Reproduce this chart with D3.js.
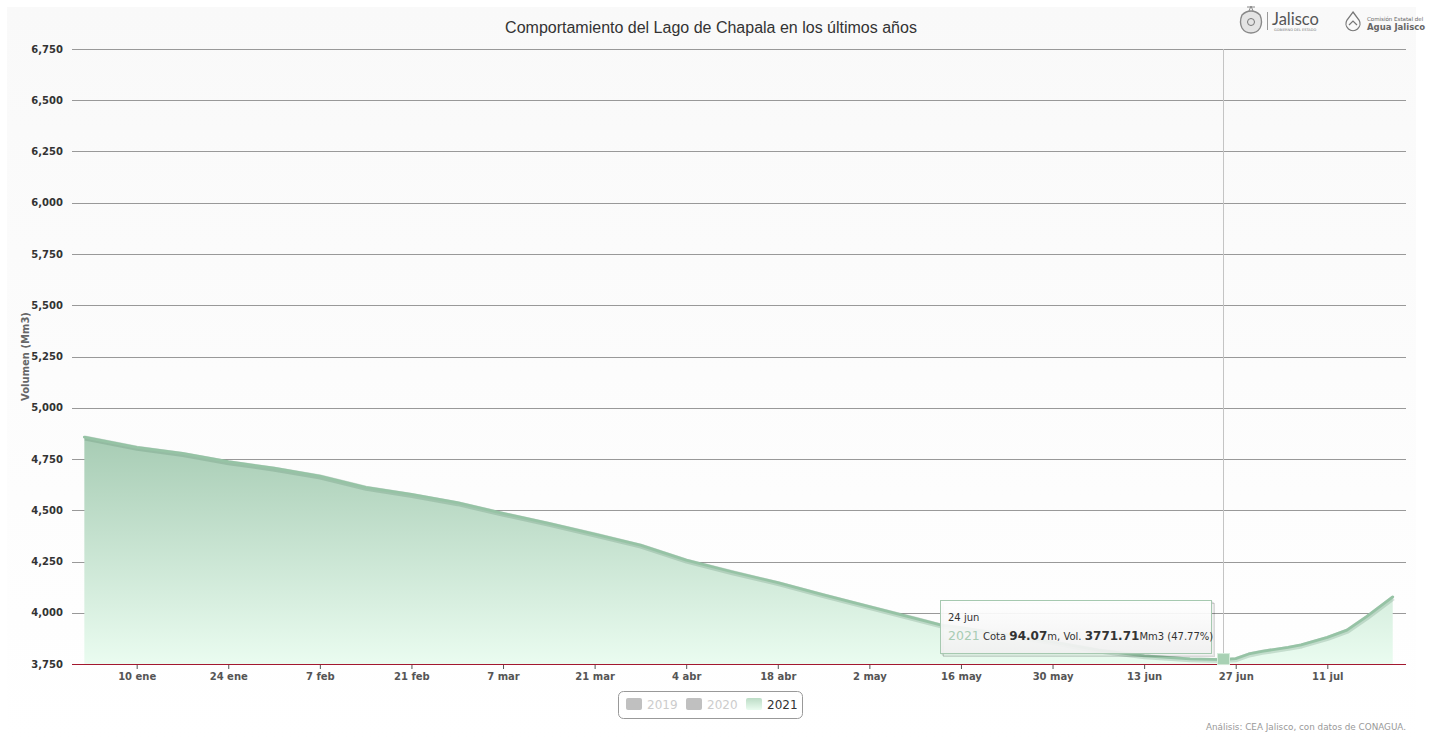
<!DOCTYPE html>
<html>
<head>
<meta charset="utf-8">
<script src="https://cdn.jsdelivr.net/npm/d3@7"></script>
<style>
  html, body { margin: 0; padding: 0; background: #ffffff; }
  svg { display: block; }
</style>
</head>
<body>
<svg id="chart" width="1429" height="741"></svg>
<script>
// ---------------- DATA ----------------
const chartTitle = "Comportamiento del Lago de Chapala en los últimos años";
const yAxisTitle = "Volumen (Mm3)";
const creditText = "Análisis: CEA Jalisco, con datos de CONAGUA.";
const legendYears = ["2019", "2020", "2021"];
const legendVisible = [false, false, true];

// 2021 series (plotted date, volume in Mm3)
const dates2021 = [
  "2021-01-02","2021-01-10","2021-01-17","2021-01-24","2021-01-31",
  "2021-02-07","2021-02-14","2021-02-21","2021-02-28",
  "2021-03-07","2021-03-14","2021-03-21","2021-03-28",
  "2021-04-04","2021-04-11","2021-04-18","2021-04-25",
  "2021-05-02","2021-05-09","2021-05-13","2021-05-16","2021-05-23","2021-05-30",
  "2021-06-06","2021-06-13","2021-06-20","2021-06-25","2021-06-27","2021-06-29",
  "2021-07-01","2021-07-05","2021-07-07","2021-07-11","2021-07-14","2021-07-17","2021-07-21"
];
const volumes2021 = [
  4857, 4807, 4777, 4737, 4705,
  4667, 4612, 4577, 4537,
  4485, 4436, 4384, 4330,
  4257, 4200, 4147, 4087,
  4030, 3973, 3940, 3927, 3893, 3858,
  3818, 3790, 3775, 3771.71, 3776, 3799,
  3812, 3831, 3843, 3880, 3915, 3981, 4077
];

const yTicks = [3750, 4000, 4250, 4500, 4750, 5000, 5250, 5500, 5750, 6000, 6250, 6500, 6750];
const xTickDates = ["2021-01-10","2021-01-24","2021-02-07","2021-02-21","2021-03-07","2021-03-21",
  "2021-04-04","2021-04-18","2021-05-02","2021-05-16","2021-05-30","2021-06-13","2021-06-27","2021-07-11"];
const monthNames = ["ene","feb","mar","abr","may","jun","jul","ago","sep","oct","nov","dic"];

// tooltip content
const tipDateLabel = "24 jun";
const tipPointDate = "2021-06-25";
const tipYear = "2021";
const tipCota = "94.07";
const tipVol = "3771.71";
const tipPct = "(47.77%)";

// ---------------- CHART ----------------
const parse = d3.timeParse("%Y-%m-%d");
const data = dates2021.map((d, i) => ({ date: parse(d), v: volumes2021[i] }));

const svg = d3.select("#chart");
const defs = svg.append("defs");

const bg = defs.append("linearGradient").attr("id", "bgGrad")
  .attr("x1", 0).attr("y1", 0).attr("x2", 0).attr("y2", 1);
bg.append("stop").attr("offset", "0%").attr("stop-color", "#f9f9f9");
bg.append("stop").attr("offset", "100%").attr("stop-color", "#ffffff");

const areaGrad = defs.append("linearGradient").attr("id", "areaGrad")
  .attr("gradientUnits", "userSpaceOnUse")
  .attr("x1", 0).attr("y1", 437).attr("x2", 0).attr("y2", 664);
areaGrad.append("stop").attr("offset", "0%").attr("stop-color", "#a7ccb4");
areaGrad.append("stop").attr("offset", "100%").attr("stop-color", "#eafcf0");

const legGrad = defs.append("linearGradient").attr("id", "legGrad")
  .attr("x1", 0).attr("y1", 0).attr("x2", 0).attr("y2", 1);
legGrad.append("stop").attr("offset", "0%").attr("stop-color", "#bcdcc6");
legGrad.append("stop").attr("offset", "100%").attr("stop-color", "#eafcf0");

const tipGrad = defs.append("linearGradient").attr("id", "tipGrad")
  .attr("x1", 0).attr("y1", 0).attr("x2", 0).attr("y2", 1);
tipGrad.append("stop").attr("offset", "0%").attr("stop-color", "#ffffff");
tipGrad.append("stop").attr("offset", "100%").attr("stop-color", "#f0f0f0");

// background panel
svg.append("rect").attr("x", 7).attr("y", 7).attr("width", 1409).attr("height", 734)
  .attr("fill", "url(#bgGrad)");

// scales
const plotLeft = 72, plotRight = 1406, plotTop = 49, plotBottom = 664;
const x = d3.scaleTime()
  .domain([new Date(2020, 11, 31, 2, 43), new Date(2021, 6, 23, 0, 43)])
  .range([plotLeft, plotRight]);
const y = d3.scaleLinear().domain([3750, 6750]).range([plotBottom, plotTop]);

// grid lines
svg.append("g").selectAll("line").data(yTicks.filter(t => t !== 3750)).join("line")
  .attr("x1", plotLeft).attr("x2", plotRight)
  .attr("y1", d => Math.round(y(d)) + 0.5).attr("y2", d => Math.round(y(d)) + 0.5)
  .attr("stroke", "#999").attr("stroke-width", 1);

// y axis labels
const yAxis = d3.axisLeft(y).tickValues(yTicks).tickSize(0).tickPadding(9)
  .tickFormat(d3.format(","));
const gy = svg.append("g").attr("transform", `translate(${plotLeft},0)`).call(yAxis);
gy.select(".domain").remove();
gy.selectAll("text").attr("font-family", "DejaVu Sans, Verdana, sans-serif")
  .attr("font-size", "10px").attr("font-weight", "bold").attr("fill", "#333");

// y axis title
svg.append("text")
  .attr("transform", `translate(29,${(plotTop + plotBottom) / 2}) rotate(-90)`)
  .attr("text-anchor", "middle")
  .attr("font-family", "DejaVu Sans, Verdana, sans-serif")
  .attr("font-size", "10px").attr("font-weight", "bold").attr("fill", "#666")
  .text(yAxisTitle);

// area + line
const area = d3.area().x(d => x(d.date)).y0(plotBottom).y1(d => y(d.v)).curve(d3.curveLinear);
const line = d3.line().x(d => x(d.date)).y(d => y(d.v)).curve(d3.curveLinear);

svg.append("path").datum(data).attr("d", area).attr("fill", "url(#areaGrad)");
svg.append("path").datum(data).attr("d", line)
  .attr("fill", "none").attr("stroke", "rgba(60,110,80,0.2)").attr("stroke-width", 5)
  .attr("transform", "translate(0.5,1)").attr("stroke-linejoin", "round");
svg.append("path").datum(data).attr("d", line)
  .attr("fill", "none").attr("stroke", "#96c3a5").attr("stroke-width", 2.8)
  .attr("stroke-linejoin", "round").attr("stroke-linecap", "round");

// x axis
const xAxis = d3.axisBottom(x).tickValues(xTickDates.map(parse)).tickSize(5).tickPadding(4)
  .tickFormat(d => d.getDate() + " " + monthNames[d.getMonth()]);
const gx = svg.append("g").attr("transform", `translate(0,${plotBottom})`).call(xAxis);
gx.select(".domain").remove();
gx.selectAll(".tick line").attr("stroke", "#555");
gx.selectAll("text").attr("font-family", "DejaVu Sans, Verdana, sans-serif")
  .attr("font-size", "10px").attr("font-weight", "bold").attr("fill", "#555");
svg.append("line").attr("x1", plotLeft).attr("x2", plotRight)
  .attr("y1", plotBottom + 0.5).attr("y2", plotBottom + 0.5)
  .attr("stroke", "#a3182f").attr("stroke-width", 1);

// crosshair
const tipPt = data.find(d => +d.date === +parse(tipPointDate));
const cx = Math.round(x(tipPt.date)) + 0.5;
svg.append("line").attr("x1", cx).attr("x2", cx).attr("y1", plotTop).attr("y2", plotBottom)
  .attr("stroke", "#c4c4c4").attr("stroke-width", 1);

// hover marker
svg.append("rect").attr("x", cx - 6).attr("y", y(tipPt.v) - 6).attr("width", 12).attr("height", 11)
  .attr("fill", "#a8d1b4").attr("stroke", "#d4ecdb").attr("stroke-width", 1);

// tooltip
const tx = 940.5, ty = 600.5, tw = 271, th = 53;
const tip = svg.append("g");
[3, 2, 1].forEach(o => {
  tip.append("rect").attr("x", tx + o).attr("y", ty + o).attr("width", tw).attr("height", th)
    .attr("fill", "none").attr("stroke", `rgba(0,0,0,${0.05 * o})`).attr("stroke-width", 1);
});
tip.append("rect").attr("x", tx).attr("y", ty).attr("width", tw).attr("height", th)
  .attr("fill", "url(#tipGrad)").attr("fill-opacity", 0.93)
  .attr("stroke", "#a6c9b0").attr("stroke-width", 1);
tip.append("text").attr("x", 948).attr("y", 621)
  .attr("font-family", "DejaVu Sans, Verdana, sans-serif").attr("font-size", "10px").attr("fill", "#333")
  .text(tipDateLabel);
const t2 = tip.append("text").attr("x", 948).attr("y", 640)
  .attr("font-family", "DejaVu Sans, Verdana, sans-serif").attr("fill", "#333");
t2.append("tspan").attr("font-size", "12.5px").attr("fill", "#a8ccb3").text(tipYear);
t2.append("tspan").attr("font-size", "10px").text(" Cota ");
t2.append("tspan").attr("font-size", "12px").attr("font-weight", "bold").text(tipCota);
t2.append("tspan").attr("font-size", "10px").text("m, Vol. ");
t2.append("tspan").attr("font-size", "12px").attr("font-weight", "bold").text(tipVol);
t2.append("tspan").attr("font-size", "10px").text("Mm3 " + tipPct);

// title
svg.append("text").attr("x", 711).attr("y", 33).attr("text-anchor", "middle")
  .attr("font-family", "Liberation Sans, Arial, sans-serif").attr("font-size", "16px").attr("fill", "#333")
  .text(chartTitle);

// legend
const leg = svg.append("g");
leg.append("rect").attr("x", 618.5).attr("y", 691.5).attr("width", 184).attr("height", 27).attr("rx", 5)
  .attr("fill", "none").attr("stroke", "#999").attr("stroke-width", 1);
legendYears.forEach((yr, i) => {
  const lx = 626 + i * 60;
  leg.append("rect").attr("x", lx).attr("y", 698).attr("width", 16).attr("height", 12).attr("rx", 2)
    .attr("fill", legendVisible[i] ? "url(#legGrad)" : "#c0c0c0");
  leg.append("text").attr("x", lx + 21).attr("y", 709)
    .attr("font-family", "DejaVu Sans, Verdana, sans-serif").attr("font-size", "12px")
    .attr("fill", legendVisible[i] ? "#333" : "#cccccc").text(yr);
});

// credits
svg.append("text").attr("x", 1406).attr("y", 730).attr("text-anchor", "end")
  .attr("font-family", "DejaVu Sans, Verdana, sans-serif").attr("font-size", "8.8px").attr("fill", "#999")
  .text(creditText);

// logos (approximate)
const logo = svg.append("g");
logo.append("path")
  .attr("d", "M1242,15 q-3,7 0,13 q3,5 9,5 q6,0 9,-5 q3,-6 0,-13 q-4,-4 -9,-4 q-5,0 -9,4 z")
  .attr("fill", "#e4e4e4").attr("stroke", "#888").attr("stroke-width", 1.4);
logo.append("circle").attr("cx", 1251).attr("cy", 22).attr("r", 3.5).attr("fill", "none").attr("stroke", "#777");
logo.append("path").attr("d", "M1249,11 l2,-5 l2,5 M1247,7 l8,0").attr("stroke", "#888").attr("fill", "none");
logo.append("line").attr("x1", 1267.5).attr("x2", 1267.5).attr("y1", 12).attr("y2", 30).attr("stroke", "#999");
logo.append("text").attr("x", 1272).attr("y", 25).attr("font-family", "Lato, sans-serif")
  .attr("font-size", "16.5px").attr("fill", "#555").text("Jalisco");
logo.append("text").attr("x", 1274).attr("y", 31).attr("font-family", "DejaVu Sans, sans-serif")
  .attr("font-size", "3.5px").attr("fill", "#777").text("GOBIERNO DEL ESTADO");
logo.append("path").attr("d", "M1353,12 l6,8 a7,7 0 1 1 -12,0 z")
  .attr("fill", "none").attr("stroke", "#777").attr("stroke-width", 1.3);
logo.append("path").attr("d", "M1349,25 l4,-4 l4,4").attr("fill", "none").attr("stroke", "#777").attr("stroke-width", 1.2);
logo.append("text").attr("x", 1367).attr("y", 21).attr("font-family", "DejaVu Sans, sans-serif")
  .attr("font-size", "5.5px").attr("fill", "#666").text("Comisión Estatal del");
logo.append("text").attr("x", 1367).attr("y", 30).attr("font-family", "DejaVu Sans, sans-serif")
  .attr("font-size", "8.5px").attr("font-weight", "bold").attr("fill", "#666").text("Agua Jalisco");
</script>
</body>
</html>
